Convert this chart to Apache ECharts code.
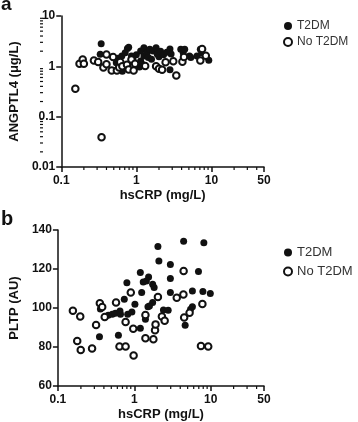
<!DOCTYPE html>
<html>
<head>
<meta charset="utf-8">
<script src="https://cdn.jsdelivr.net/npm/echarts@6/dist/echarts.min.js"></script>
<style>
html, body { margin: 0; padding: 0; background: #fff; }
#chart { width: 358px; height: 422px; }
</style>
</head>
<body>
<div id="chart"></div>
<script>
// panel a: hsCRP (mg/L) vs ANGPTL4 (ug/L)
var angT2dm = [
  [0.34, 2.8], [0.33, 1.73], [0.54, 1.18], [0.57, 1.44], [0.62, 1.18], [0.64, 1.61],
  [0.65, 0.8], [0.71, 1.87], [0.76, 2.25], [0.79, 2.39], [0.86, 1.61], [0.9, 1.38],
  [1.0, 1.7], [1.14, 2.02], [1.14, 1.28], [1.2, 1.1], [1.1, 0.97], [1.26, 2.35],
  [1.26, 1.61], [1.38, 1.87], [1.44, 1.49], [1.51, 2.18], [1.59, 1.38], [1.66, 2.02],
  [1.83, 2.35], [1.9, 1.73], [2.0, 1.55], [2.1, 2.0], [2.3, 1.7], [2.54, 1.9],
  [2.8, 2.2], [2.9, 1.75], [2.8, 0.86], [3.9, 2.18], [4.2, 1.87], [4.4, 2.18],
  [5.1, 1.61], [5.3, 1.49], [6.4, 1.61], [7.1, 2.18], [7.4, 1.87], [9.2, 1.32]
];
var angNoT2dm = [
  [0.154, 0.36], [0.344, 0.039], [0.175, 1.13], [0.193, 1.36], [0.2, 1.13], [0.272, 1.3],
  [0.31, 1.22], [0.364, 0.95], [0.4, 1.71], [0.4, 1.1], [0.469, 0.83], [0.49, 1.54],
  [0.55, 0.83], [0.59, 0.95], [0.61, 1.22], [0.65, 1.0], [0.75, 1.08], [0.79, 0.87],
  [0.86, 1.36], [0.92, 0.83], [0.96, 1.12], [1.31, 1.02], [1.83, 1.0], [2.0, 0.9],
  [2.2, 0.86], [2.45, 1.2], [3.1, 1.26], [3.4, 0.66], [4.1, 1.24], [4.3, 1.54],
  [7.1, 1.3], [7.5, 2.2], [8.4, 1.62]
];

// panel b: hsCRP (mg/L) vs PLTP (AU)
var pltpT2dm = [
  [2.04, 131.5], [4.43, 134.2], [8.15, 133.5], [2.1, 124.1], [2.97, 122.3], [6.93, 118.7],
  [1.2, 118.2], [1.54, 115.9], [1.44, 113.8], [1.31, 113.3], [2.97, 115.1], [1.74, 112.2],
  [1.82, 110.5], [1.25, 107.9], [2.97, 107.9], [5.77, 108.7], [7.92, 108.4], [9.9, 107.5],
  [1.74, 102.8], [1.58, 101.0], [1.51, 100.7], [2.41, 99.0], [2.78, 98.8], [5.77, 100.7],
  [5.46, 99.3], [1.4, 94.2], [1.2, 89.6], [4.64, 91.1], [0.8, 113.0], [0.74, 104.5],
  [1.02, 101.9], [0.36, 99.5], [0.515, 96.8], [0.456, 96.3], [0.565, 97.3], [0.65, 98.5],
  [0.66, 96.8], [0.82, 96.8], [0.93, 97.9], [0.35, 85.3], [0.62, 86.0]
];
var pltpNoT2dm = [
  [0.157, 98.6], [0.196, 95.6], [0.179, 83.1], [0.199, 78.5], [0.28, 79.2], [0.316, 91.3],
  [0.354, 102.4], [0.38, 100.5], [0.41, 95.4], [0.577, 102.8], [0.64, 80.2], [0.77, 80.2],
  [0.77, 92.8], [0.9, 107.9], [0.97, 89.4], [0.98, 75.7], [1.4, 96.4], [1.4, 84.5],
  [1.78, 84.0], [1.87, 88.6], [1.9, 91.6], [2.04, 105.6], [2.3, 95.6], [2.5, 93.5],
  [3.6, 105.3], [4.4, 106.9], [4.43, 119], [4.5, 95.1], [5.3, 97.6], [7.8, 102],
  [7.47, 80.5], [9.3, 80.2]
];

var seriesNames = ['T2DM', 'No T2DM'];
var xMinor = [0.2, 0.3, 0.4, 0.5, 0.6, 0.7, 0.8, 0.9, 2, 3, 4, 5, 6, 7, 8, 9, 20, 30, 40];
var angMinor = [0.02, 0.03, 0.04, 0.05, 0.06, 0.07, 0.08, 0.09,
  0.2, 0.3, 0.4, 0.5, 0.6, 0.7, 0.8, 0.9, 2, 3, 4, 5, 6, 7, 8, 9];

var FONT = '"Liberation Sans", Arial, sans-serif';
var INK = '#111';
var gridA = { left: 43, top: 16, width: 221, height: 151 };
var gridB = { left: 43, top: 230, width: 221, height: 156 };

var axisLine = { lineStyle: { color: INK, width: 1.5 } };
var axisTick = { length: 5, lineStyle: { color: INK, width: 1.5 } };
var tickLabel = { color: INK, fontSize: 12, fontWeight: 'bold', fontFamily: FONT };
var nameStyle = { color: INK, fontSize: 13, fontWeight: 'bold', fontFamily: FONT };

function fmt (v) {
  return String(+(+v).toPrecision(3))
}

function xAxis (gridIndex) {
  return {
    type: 'log', logBase: 10, gridIndex: gridIndex, min: 0.1, max: 50,
    name: 'hsCRP (mg/L)', nameLocation: 'middle', nameGap: 22, nameTextStyle: nameStyle,
    axisLine: axisLine, axisTick: axisTick, splitLine: { show: false },
    axisLabel: Object.assign({ margin: 8, formatter: fmt, showMaxLabel: true }, tickLabel)
  }
}

var filled = { color: INK, opacity: 1 };
var hollow = { color: '#fff', borderColor: INK, borderWidth: 2, opacity: 1 };

var chart = echarts.init(document.getElementById('chart'));
chart.setOption({
  animation: false,
  textStyle: { fontFamily: FONT },
  title: [
    { text: 'a', left: 1, top: -5, padding: 0, textStyle: { fontSize: 19, fontWeight: 'bold', color: INK, fontFamily: FONT } },
    { text: 'b', left: 1, top: 209, padding: 0, textStyle: { fontSize: 20, fontWeight: 'bold', color: INK, fontFamily: FONT } }
  ],
  legend: [
    { data: seriesNames, orient: 'vertical', left: 283, top: 20, itemWidth: 8, itemHeight: 8, itemGap: 4, itemTextGap: 13, padding: 0,
      textStyle: { fontSize: 12, color: '#333', fontFamily: FONT } },
    { data: seriesNames, orient: 'vertical', left: 283, top: 246, itemWidth: 8, itemHeight: 8, itemGap: 6, itemTextGap: 13, padding: 0,
      textStyle: { fontSize: 13, color: '#333', fontFamily: FONT } }
  ],
  grid: [gridA, gridB],
  xAxis: [xAxis(0), xAxis(1)],
  yAxis: [
    { type: 'log', logBase: 10, gridIndex: 0, min: 0.01, max: 10,
      name: 'ANGPTL4 (μg/L)', nameLocation: 'middle', nameGap: 29, nameTextStyle: nameStyle,
      axisLine: axisLine, axisTick: axisTick, splitLine: { show: false },
      axisLabel: Object.assign({ margin: 6, formatter: fmt }, tickLabel) },
    { type: 'value', gridIndex: 1, min: 60, max: 140, interval: 20,
      name: 'PLTP (AU)', nameLocation: 'middle', nameGap: 29, nameTextStyle: nameStyle,
      axisLine: axisLine, axisTick: axisTick, splitLine: { show: false },
      axisLabel: Object.assign({ margin: 6 }, tickLabel) }
  ],
  series: [
    { name: 'T2DM', type: 'scatter', xAxisIndex: 0, yAxisIndex: 0, symbolSize: 7, itemStyle: filled, data: angT2dm },
    { name: 'No T2DM', type: 'scatter', xAxisIndex: 0, yAxisIndex: 0, symbolSize: 6.5, itemStyle: hollow, data: angNoT2dm },
    { name: 'T2DM', type: 'scatter', xAxisIndex: 1, yAxisIndex: 1, symbolSize: 7, itemStyle: filled, data: pltpT2dm },
    { name: 'No T2DM', type: 'scatter', xAxisIndex: 1, yAxisIndex: 1, symbolSize: 6.5, itemStyle: hollow, data: pltpNoT2dm }
  ]
});

// log axes get minor ticks at 2..9 of each decade, placed through the axis scale
var marks = [];
function tick (x1, y1, x2, y2) {
  marks.push({ type: 'line', silent: true, shape: { x1: x1, y1: y1, x2: x2, y2: y2 }, style: { stroke: INK, lineWidth: 1.2 } });
}
xMinor.forEach(function (v) {
  var xa = chart.convertToPixel({ xAxisIndex: 0 }, v);
  var xb = chart.convertToPixel({ xAxisIndex: 1 }, v);
  var ya = gridA.top + gridA.height;
  var yb = gridB.top + gridB.height;
  tick(xa, ya, xa, ya + 3);
  tick(xb, yb, xb, yb + 3);
});
angMinor.forEach(function (v) {
  var y = chart.convertToPixel({ yAxisIndex: 0 }, v);
  tick(gridA.left - 3, y, gridA.left, y);
});
chart.setOption({ graphic: marks });
</script>
</body>
</html>
